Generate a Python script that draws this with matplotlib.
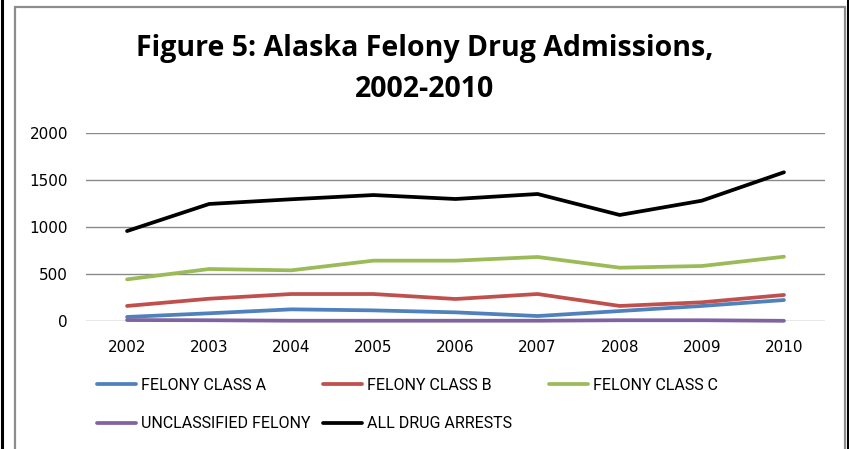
import matplotlib
matplotlib.use("Agg")
import matplotlib.pyplot as plt
from matplotlib.lines import Line2D
from matplotlib.patches import Rectangle

years = ["2002", "2003", "2004", "2005", "2006", "2007", "2008", "2009", "2010"]
felony_a = [43, 82, 124, 113, 92, 53, 106, 160, 223]
felony_b = [160, 237, 287, 287, 234, 287, 160, 199, 277]
felony_c = [443, 553, 539, 642, 642, 681, 567, 585, 684]
unclassified = [10, 8, 3, 3, 3, 3, 8, 8, 2]
all_arrests = [957, 1245, 1295, 1340, 1298, 1351, 1128, 1280, 1582]
yticks = [0, 500, 1000, 1500, 2000]

W, H = 849, 449
fig = plt.figure(figsize=(W / 100, H / 100), dpi=100)

# frame decorations
fig.add_artist(Line2D([2 / W, 2 / W], [0, 1], color="black", lw=2.2, transform=fig.transFigure))
fig.add_artist(Line2D([847.5 / W, 847.5 / W], [0, 1], color="black", lw=2.2, transform=fig.transFigure))
fig.add_artist(Rectangle((15 / W, -0.05), (845 - 15) / W, 1.05 - 7 / H, fill=False,
                         edgecolor="#8c8c8c", lw=1.6, transform=fig.transFigure))

ax = fig.add_axes([86 / W, (H - 321) / H, (825 - 86) / W, (321 - 133) / H])
x = list(range(len(years)))
series = [
    ("FELONY CLASS A", felony_a, "#4F81BD"),
    ("FELONY CLASS B", felony_b, "#C0504D"),
    ("FELONY CLASS C", felony_c, "#9BBB59"),
    ("UNCLASSIFIED FELONY", unclassified, "#8064A2"),
    ("ALL DRUG ARRESTS", all_arrests, "#000000"),
]
handles = {}
for name, vals, col in series:
    (ln,) = ax.plot(x, vals, color=col, lw=2.7, solid_capstyle="round", clip_on=False)
    handles[name] = ln

ax.set_xlim(-0.5, len(years) - 0.5)
ax.set_ylim(0, 2000)
ax.set_yticks(yticks)
ax.set_xticks(x)
ax.set_xticklabels(years)
for s in ax.spines.values():
    s.set_visible(False)
ax.grid(axis="y", color="#8a8a8a", lw=1.0)
ax.set_axisbelow(True)
ax.tick_params(length=0, labelsize=11, colors="black")
ax.tick_params(axis="y", pad=13)
ax.tick_params(axis="x", pad=14)
for lab in ax.get_xticklabels() + ax.get_yticklabels():
    lab.set_family("DejaVu Sans")

title_kw = dict(ha="center", va="baseline", fontsize=20.5, fontweight="bold", family="Open Sans")
fig.text(425 / W, 1 - 56 / H, "Figure 5: Alaska Felony Drug Admissions,", **title_kw)
fig.text(425 / W, 1 - 97 / H, "2002-2010", **title_kw)

leg_font = {"family": "Roboto", "size": 11.5}
cols = [
    (97, ["FELONY CLASS A", "UNCLASSIFIED FELONY"]),
    (323, ["FELONY CLASS B", "ALL DRUG ARRESTS"]),
    (549, ["FELONY CLASS C"]),
]
for xpos, names in cols:
    fig.legend([handles[n] for n in names], names, loc="upper left",
               bbox_to_anchor=(xpos / W, 1 - 378 / H), bbox_transform=fig.transFigure,
               frameon=False, prop=leg_font, handlelength=2.45, handletextpad=0.28,
               borderpad=0, borderaxespad=0, labelspacing=1.45)

fig.savefig("out.png", dpi=100)
